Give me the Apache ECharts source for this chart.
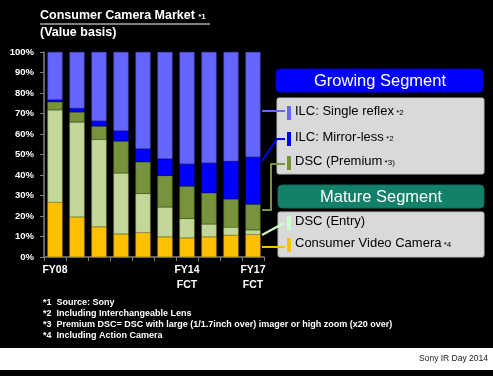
<!DOCTYPE html>
<html>
<head>
<meta charset="utf-8">
<script src="https://cdn.jsdelivr.net/npm/echarts@6/dist/echarts.min.js"></script>
<style>
  html, body { margin: 0; padding: 0; background: #000; }
  #chart { width: 493px; height: 376px; }
</style>
</head>
<body>
<div id="chart"></div>
<script>
// fiscal years FY08 .. FY17 (FY14-FY17 forecast)
var categories = ['FY08', 'FY09', 'FY10', 'FY11', 'FY12', 'FY13', 'FY14', 'FY15', 'FY16', 'FY17'];
var tickLabels = ['FY08', '', '', '', '', '', 'FY14\nFCT', '', '', 'FY17\nFCT'];

// share of market value, % (stacked bottom to top)
var videoCamera = [26.7, 19.5, 14.7, 11.2, 11.9, 9.8, 9.3, 9.8, 10.6, 10.9];
var dscEntry    = [45.0, 46.3, 42.6, 29.7, 19.0, 14.5, 9.4, 6.2, 3.9, 2.3];
var dscPremium  = [4.0, 4.9, 6.5, 15.6, 15.5, 15.4, 15.8, 15.3, 13.8, 12.5];
var mirrorLess  = [1.0, 1.8, 2.5, 5.1, 6.4, 8.2, 10.8, 14.5, 18.4, 23.0];
var singleReflex = [23.3, 27.5, 33.7, 38.4, 47.2, 52.1, 54.7, 54.2, 53.3, 51.3];

var yTicks = [0, 10, 20, 30, 40, 50, 60, 70, 80, 90, 100];

var C_VIDEO = '#FFC000', C_ENTRY = '#C4D79B', C_PREM = '#77933C',
    C_MIRROR = '#0000FF', C_SLR = '#6666FF';

var chart = echarts.init(document.getElementById('chart'));

function barSeries(name, data, color, border) {
    return {
        name: name,
        type: 'bar',
        stack: 'share',
        data: data,
        barWidth: '68%',
        itemStyle: { color: color, borderColor: border, borderWidth: 0.6 },
        emphasis: { disabled: true }
    };
}

var font = 'Arial, "Liberation Sans", sans-serif';

function legendText(x, y, main, note) {
    return {
        type: 'text', left: x, top: y - 8,
        style: {
            text: '{a|' + main + '}' + (note ? '{b| ' + note + '}' : ''),
            rich: {
                a: { fontSize: 13, fontFamily: font, fill: '#000' },
                b: { fontSize: 8, fontFamily: font, fill: '#000', padding: [3, 0, 0, 0] }
            }
        }
    };
}

function marker(y, color) {
    return { type: 'rect', shape: { x: 287, y: y - 7, width: 4, height: 14 }, style: { fill: color } };
}

function conn(points, color) {
    return { type: 'polyline', shape: { points: points }, style: { stroke: color, lineWidth: 2, fill: null } };
}

var option = {
    animation: false,
    backgroundColor: '#000',
    grid: { left: 44, right: 229, top: 52, bottom: 119 },
    xAxis: {
        type: 'category',
        data: categories,
        axisLine: { lineStyle: { color: '#808080', width: 1.5 } },
        axisTick: { show: true, lineStyle: { color: '#808080' }, length: 4 },
        axisLabel: {
            color: '#fff', fontWeight: 'bold', fontSize: 10.5, fontFamily: font,
            margin: 6, lineHeight: 15, interval: 0,
            formatter: function (v, i) { return tickLabels[i]; }
        }
    },
    yAxis: {
        type: 'value',
        min: 0, max: 100, interval: 10,
        axisLine: { show: true, lineStyle: { color: '#808080', width: 1.5 } },
        axisTick: { show: true, lineStyle: { color: '#808080' }, length: 4 },
        splitLine: { show: false },
        axisLabel: {
            color: '#fff', fontWeight: 'bold', fontSize: 9.5, fontFamily: font, margin: 10,
            formatter: function (v) { return yTicks.indexOf(v) >= 0 ? v + '%' : ''; }
        }
    },
    series: [
        barSeries('Consumer Video Camera', videoCamera, C_VIDEO, '#E0A800'),
        barSeries('DSC (Entry)', dscEntry, C_ENTRY, '#9FB870'),
        barSeries('DSC (Premium)', dscPremium, C_PREM, '#5F7A2C'),
        barSeries('ILC: Mirror-less', mirrorLess, C_MIRROR, '#0000C8'),
        barSeries('ILC: Single reflex', singleReflex, C_SLR, '#4C4CD0')
    ],
    graphic: [
        // title
        {
            type: 'text', left: 40, top: 9,
            style: {
                text: '{a|Consumer Camera Market} {b|*1}',
                rich: {
                    a: { fontSize: 12.5, fontWeight: 'bold', fontFamily: font, fill: '#fff' },
                    b: { fontSize: 8, fontWeight: 'bold', fontFamily: font, fill: '#fff', padding: [3, 0, 0, 0] }
                }
            }
        },
        { type: 'line', shape: { x1: 40, y1: 24, x2: 210, y2: 24 }, style: { stroke: '#fff', lineWidth: 1 } },
        {
            type: 'text', left: 40, top: 26,
            style: { text: '(Value basis)', fontSize: 12.5, fontWeight: 'bold', fontFamily: font, fill: '#fff' }
        },

        // growing segment panel
        { type: 'rect', shape: { x: 276, y: 69, width: 207, height: 23, r: 4 }, style: { fill: '#0000FF', stroke: '#0000E0' } },
        {
            type: 'text', x: 380, y: 81,
            style: { text: 'Growing Segment', fontSize: 16.5, fontFamily: font, fill: '#fff', align: 'center', verticalAlign: 'middle' }
        },
        { type: 'rect', shape: { x: 277, y: 98, width: 207, height: 76, r: 2 }, style: { fill: '#D9D9D9', stroke: '#BFBFBF' } },

        // mature segment panel
        { type: 'rect', shape: { x: 278, y: 185, width: 206, height: 23, r: 4 }, style: { fill: '#13816A', stroke: '#0F6E5A' } },
        {
            type: 'text', x: 381, y: 197,
            style: { text: 'Mature Segment', fontSize: 16.5, fontFamily: font, fill: '#fff', align: 'center', verticalAlign: 'middle' }
        },
        { type: 'rect', shape: { x: 278, y: 212, width: 206, height: 45, r: 2 }, style: { fill: '#D9D9D9', stroke: '#BFBFBF' } },

        // legend markers and texts
        marker(113, C_SLR), legendText(295, 113, 'ILC: Single reflex', '*2'),
        marker(139, C_MIRROR), legendText(295, 139, 'ILC: Mirror-less', '*2'),
        marker(163, C_PREM), legendText(295, 163, 'DSC (Premium', '*3)'),
        marker(223, '#CCFFCC'), legendText(295, 223, 'DSC (Entry)', ''),
        marker(245, C_VIDEO), legendText(295, 245, 'Consumer Video Camera', '*4'),

        // connectors from the last bar to the legend
        conn([[262, 111], [285, 111]], C_SLR),
        conn([[262, 161], [277, 139], [285, 139]], C_MIRROR),
        conn([[262, 210], [271, 210], [271, 164], [285, 164]], C_PREM),
        conn([[262, 235], [284, 223]], '#CCFFCC'),
        conn([[262, 247], [285, 247]], C_VIDEO),

        // footnotes
        {
            type: 'text', left: 43, top: 297,
            style: {
                text: '*1  Source: Sony\n*2  Including Interchangeable Lens\n*3  Premium DSC= DSC with large (1/1.7inch over) imager or high zoom (x20 over)\n*4  Including Action Camera',
                fontSize: 9, fontWeight: 'bold', lineHeight: 11, fontFamily: font, fill: '#fff'
            }
        },

        // footer band
        { type: 'rect', shape: { x: 0, y: 348, width: 493, height: 22 }, style: { fill: '#fff' } },
        {
            type: 'text', x: 488, y: 359,
            style: { text: 'Sony IR Day 2014', fontSize: 8.5, fontFamily: font, fill: '#222', align: 'right', verticalAlign: 'middle' }
        }
    ]
};

chart.setOption(option);
</script>
</body>
</html>
